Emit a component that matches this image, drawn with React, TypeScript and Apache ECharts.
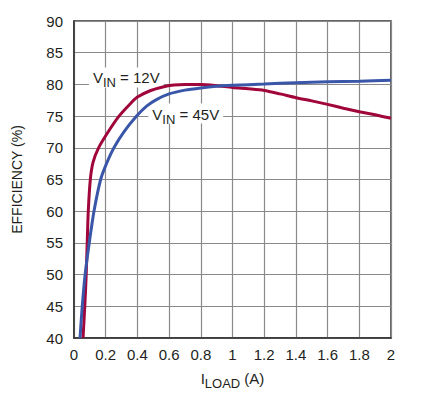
import React, { useEffect, useRef } from "react";
import * as echarts from "echarts";

const xTicks = [0, 0.2, 0.4, 0.6, 0.8, 1, 1.2, 1.4, 1.6, 1.8, 2];
const yTicks = [40, 45, 50, 55, 60, 65, 70, 75, 80, 85, 90];

const vin12: [number, number][] = [
  [0.057, 40], [0.068, 45], [0.077, 50], [0.084, 55.5], [0.09, 60], [0.103, 65],
  [0.12, 67.7], [0.155, 70], [0.215, 72.5], [0.284, 75], [0.357, 77], [0.4, 78],
  [0.48, 79], [0.56, 79.6], [0.63, 79.9], [0.7, 80.0], [0.8, 80.0], [0.9, 79.8],
  [1.0, 79.5], [1.1, 79.3], [1.2, 79.05], [1.3, 78.5], [1.4, 77.9], [1.5, 77.4],
  [1.6, 76.85], [1.7, 76.25], [1.8, 75.7], [1.9, 75.2], [2.0, 74.65],
];

const vin45: [number, number][] = [
  [0.038, 40], [0.052, 45], [0.07, 50], [0.099, 55.5], [0.126, 60], [0.168, 65],
  [0.205, 67.5], [0.252, 70], [0.315, 72.5], [0.395, 75], [0.46, 76.6], [0.52, 77.6],
  [0.6, 78.5], [0.7, 79.1], [0.8, 79.45], [0.9, 79.7], [1.0, 79.85], [1.2, 80.06],
  [1.4, 80.27], [1.6, 80.43], [1.8, 80.5], [2.0, 80.64],
];

const label12 = { text: "= 12V", coord: [0.33, 81.1] };
const label45 = { text: "= 45V", coord: [0.705, 75.4] };

const FONT = "'Liberation Sans', Arial, sans-serif";
const TXT = "#231f20";

const richLabel = {
  a: { fontSize: 15, fontFamily: FONT, color: TXT, lineHeight: 17 },
  b: { fontSize: 13, fontFamily: FONT, color: TXT, lineHeight: 13, padding: [10, 0, 0, 0] },
};

function markItem(l: { text: string; coord: number[] }) {
  return {
    coord: l.coord,
    label: {
      show: true,
      position: "inside",
      formatter: `{a|V}{b|IN}{a| ${l.text}}`,
      backgroundColor: "#fff",
      padding: [2, 4, 1, 4],
      rich: richLabel,
    },
  };
}

export default function App() {
  const ref = useRef<HTMLDivElement>(null);
  useEffect(() => {
    if (!ref.current) return;
    const chart = echarts.init(ref.current, undefined, { renderer: "svg" });
    chart.setOption({
      animation: false,
      backgroundColor: "#fff",
      grid: {
        left: 74,
        top: 21,
        right: 34,
        bottom: 70,
        show: true,
        borderColor: "#333",
        borderWidth: 1.5,
        containLabel: false,
      },
      xAxis: {
        type: "value",
        min: 0,
        max: 2,
        interval: 0.2,
        name: "{a|I}{b|LOAD}{a| (A)}",
        nameLocation: "middle",
        nameGap: 30,
        nameTextStyle: { rich: richLabel },
        axisLine: { show: true, lineStyle: { color: "#333", width: 1.5 } },
        axisTick: { show: false },
        axisLabel: {
          fontSize: 15,
          fontFamily: FONT,
          color: TXT,
          margin: 9,
          formatter: (v: number) => String(parseFloat(v.toFixed(1))),
        },
        splitLine: { show: true, lineStyle: { color: "#8a8a8a", width: 1.2 } },
      },
      yAxis: {
        type: "value",
        min: 40,
        max: 90,
        interval: 5,
        name: "EFFICIENCY (%)",
        nameLocation: "middle",
        nameGap: 50,
        nameRotate: 90,
        nameTextStyle: { fontSize: 14, fontFamily: FONT, color: TXT },
        axisLine: { show: true, lineStyle: { color: "#333", width: 1.5 } },
        axisTick: { show: false },
        axisLabel: { fontSize: 15, fontFamily: FONT, color: TXT, margin: 11 },
        splitLine: { show: true, lineStyle: { color: "#8a8a8a", width: 1.2 } },
      },
      series: [
        {
          type: "line",
          name: "labels",
          data: [],
          z: 1,
          silent: true,
          markPoint: {
            z: 1,
            symbol: "rect",
            symbolSize: 0,
            silent: true,
            data: [markItem(label12), markItem(label45)],
          },
        },
        {
          type: "line",
          name: "VIN = 12V",
          data: vin12,
          smooth: 0.25,
          showSymbol: false,
          lineStyle: { color: "#a0063c", width: 3 },
          z: 3,
        },
        {
          type: "line",
          name: "VIN = 45V",
          data: vin45,
          smooth: 0.25,
          showSymbol: false,
          lineStyle: { color: "#3a56a8", width: 3 },
          z: 4,
        },
      ],
    });
    return () => chart.dispose();
  }, []);
  return (
    <div
      ref={ref}
      style={{ position: "absolute", left: 0, top: 0, width: 425, height: 408 }}
    />
  );
}
